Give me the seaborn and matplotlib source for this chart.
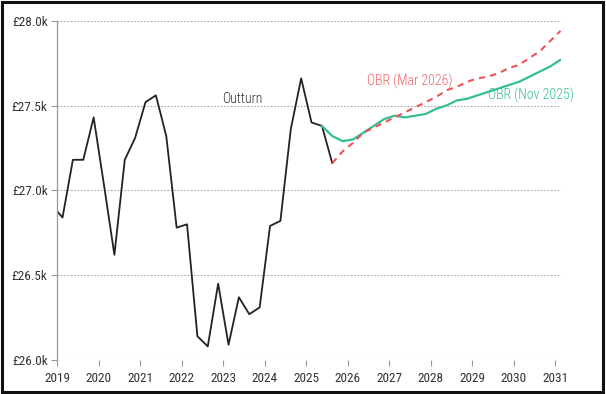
import pandas as pd
import matplotlib.pyplot as plt
import seaborn as sns

# Quarterly series, 2018 Q4 to 2031 Q1 (values in £k)
quarters = pd.period_range("2018Q4", "2031Q1", freq="Q")

outturn = [26.91, 26.84, 27.18, 27.18, 27.43, 27.03, 26.62, 27.18, 27.31, 27.52,
           27.56, 27.32, 26.78, 26.80, 26.14, 26.08, 26.45, 26.09, 26.37, 26.27,
           26.31, 26.79, 26.82, 27.36, 27.66, 27.40, 27.38, 27.16]

# OBR Nov 2025 forecast, starts at 2025 Q2
obr_nov = [27.38, 27.32, 27.29, 27.30, 27.34, 27.38, 27.42, 27.44, 27.43, 27.44,
           27.45, 27.48, 27.50, 27.53, 27.54, 27.56, 27.58, 27.60, 27.62, 27.64,
           27.67, 27.70, 27.73, 27.77]

# OBR Mar 2026 forecast, starts at 2025 Q3
obr_mar = [27.16, 27.23, 27.28, 27.34, 27.37, 27.40, 27.43, 27.46, 27.49, 27.52,
           27.55, 27.59, 27.61, 27.64, 27.66, 27.67, 27.69, 27.72, 27.74, 27.78,
           27.82, 27.88, 27.94]

year_ticks = list(range(2019, 2032))
y_ticks = [26.0, 26.5, 27.0, 27.5, 28.0]

# mid-quarter positions in decimal years
x_all = [q.year + (q.quarter - 0.5) / 4 for q in quarters]
df_out = pd.DataFrame({"x": x_all[:len(outturn)], "v": outturn})
df_nov = pd.DataFrame({"x": x_all[-len(obr_nov):], "v": obr_nov})
df_mar = pd.DataFrame({"x": x_all[-len(obr_mar):], "v": obr_mar})

sns.set_theme(style="white")
plt.rcParams["font.family"] = ["Roboto Condensed", "DejaVu Sans"]

fig = plt.figure(figsize=(6.06, 3.94), dpi=100)
ax = fig.add_axes([0.0946, 0.0863, 0.8304, 0.8612])

green = "#34bf92"
red = "#f0505a"

sns.lineplot(data=df_out, x="x", y="v", ax=ax, color="#222222", linewidth=1.3)
sns.lineplot(data=df_nov, x="x", y="v", ax=ax, color=green, linewidth=1.6)
sns.lineplot(data=df_mar, x="x", y="v", ax=ax, color=red, linewidth=1.5,
             linestyle=(0, (3, 2.5)))

ax.set_xlim(2019, 2031.125)
ax.set_ylim(26.0, 28.0)
ax.set_xticks(year_ticks)
ax.set_xticklabels([str(y) for y in year_ticks])
ax.set_yticks(y_ticks)
ax.set_yticklabels(["£%.1fk" % v for v in y_ticks])
ax.set_xlabel("")
ax.set_ylabel("")

ax.grid(axis="y", color="#aaaaaa", linestyle=(0, (1.5, 1.5)), linewidth=0.8)
ax.set_axisbelow(True)
for s in ["top", "right", "bottom"]:
    ax.spines[s].set_visible(False)
ax.spines["left"].set_color("#999999")
ax.spines["left"].set_linewidth(0.9)
ax.tick_params(axis="both", which="both", length=4, width=0.8, color="#999999",
               labelsize=9.5, labelcolor="#333333", pad=5)
ax.tick_params(axis="x", bottom=True)
ax.tick_params(axis="y", left=True, pad=3)

ax.text(2023.45, 27.54, "Outturn", color="#333333", fontsize=10, fontweight="light",
        ha="center", va="center")
ax.text(2027.5, 27.64, "OBR (Mar 2026)", color="#f06468", fontsize=10, fontweight="light",
        ha="center", va="center")
ax.text(2030.41, 27.56, "OBR (Nov 2025)", color=green, fontsize=10, fontweight="light",
        ha="center", va="center")

# black frame around the whole picture
fig.patches.append(plt.Rectangle((0.003, 0.004), 0.992, 0.992, transform=fig.transFigure,
                                 fill=False, edgecolor="#111111", linewidth=2.2))

plt.savefig("out.png", dpi=100)
